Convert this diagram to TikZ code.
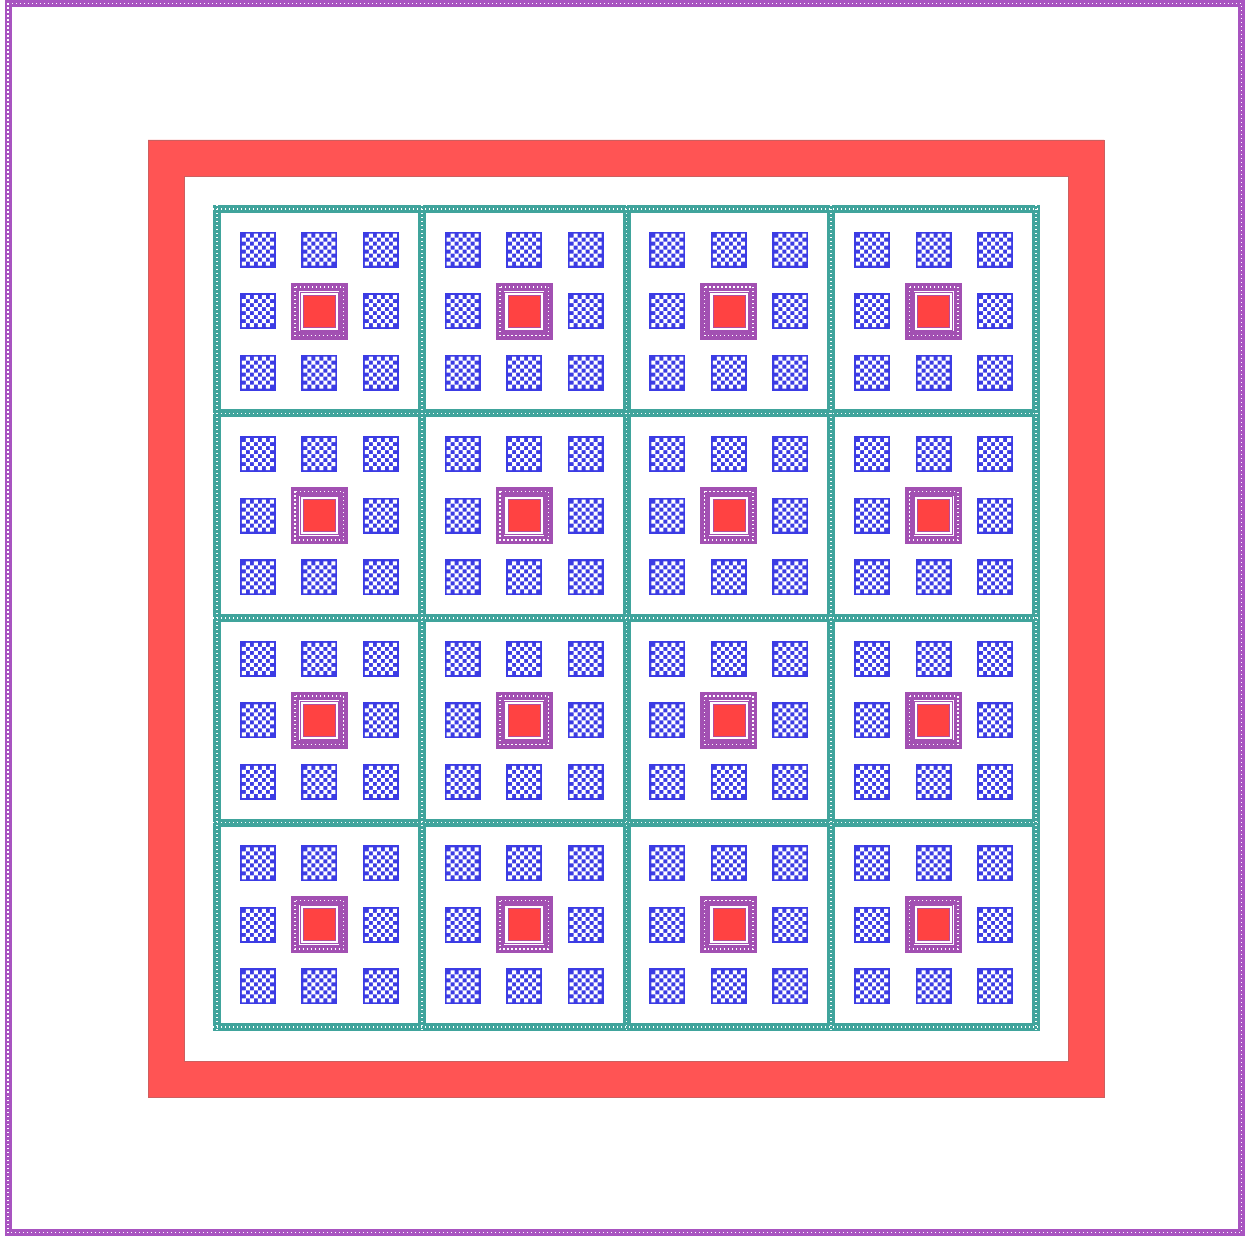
\documentclass[tikz,border=0pt]{standalone}
\definecolor{framepurple}{RGB}{168,84,192}
\definecolor{ringred}{RGB}{255,84,84}
\definecolor{ringedge}{RGB}{205,95,95}
\definecolor{gridteal}{RGB}{64,164,156}
\definecolor{padblue}{RGB}{60,60,228}
\definecolor{corepurple}{RGB}{162,80,178}
\definecolor{corered}{RGB}{255,66,66}
\begin{document}
\begin{tikzpicture}[x=1pt,y=-1pt,
  dotwhite/.style={white,line width=1.6pt,dash pattern=on 1.3pt off 2.7pt},
  bluesq/.pic={
    \fill[padblue] (-18,-18) rectangle (18,18);
    \fill[white]
      \foreach \i in {0,2,4,6}{\foreach \j in {1,3,5,7}{({-16+\j*4},{-16+\i*4}) rectangle ++(4,4)}}
      \foreach \i in {1,3,5,7}{\foreach \j in {0,2,4,6}{({-16+\j*4},{-16+\i*4}) rectangle ++(4,4)}};
  },
  corecell/.pic={
    \draw[corepurple,line width=8.5pt] (-24.25,-24.25) rectangle (24.25,24.25);
    \draw[dotwhite] (-24.25,-24.25) rectangle (24.25,24.25);
    \draw[corepurple,line width=1pt] (-19.2,-19.2) rectangle (19.2,19.2);
    \filldraw[fill=corered,draw=corepurple!80!corered,line width=0.6pt] (-16,-16) rectangle (16,16);
  }]
\useasboundingbox (0,0) rectangle (1254,1238);
\fill[white] (0,0) rectangle (1254,1238);
% outer frame
\draw[framepurple,line width=7pt] (8,3.5) rectangle (1241.5,1232.5);
\draw[dotwhite] (8,3.5) rectangle (1241.5,1232.5);
% red ring
\fill[ringred,even odd rule] (148,140) rectangle (1104,1097) (184,176) rectangle (1068,1061);
\draw[ringedge,line width=0.8pt] (148,140) rectangle (1104,1097) (184,176) rectangle (1068,1061);
% teal grid
\foreach \X in {217,421.75,626.5,831.25,1036}{
  \draw[gridteal,line width=8pt] (\X,205) -- (\X,1031);}
\foreach \Y in {209,413.5,618,822.5,1027}{
  \draw[gridteal,line width=8pt] (213,\Y) -- (1040,\Y);}
\foreach \X in {217,421.75,626.5,831.25,1036}{
  \draw[dotwhite] (\X,205) -- (\X,1031);}
\foreach \Y in {209,413.5,618,822.5,1027}{
  \draw[dotwhite] (213,\Y) -- (1040,\Y);}
% cells
\foreach \c in {0,...,3}{
  \foreach \r in {0,...,3}{
    \pgfmathsetmacro\cx{319.375+204.75*\c}
    \pgfmathsetmacro\cy{311.25+204.5*\r}
    \foreach \dx/\dy in {-61.5/-61.5,0/-61.5,61.5/-61.5,-61.5/0,61.5/0,-61.5/61.5,0/61.5,61.5/61.5}{
      \pic at ({\cx+\dx},{\cy+\dy}) {bluesq};}
    \pic at (\cx,\cy) {corecell};
  }}
\end{tikzpicture}
\end{document}
